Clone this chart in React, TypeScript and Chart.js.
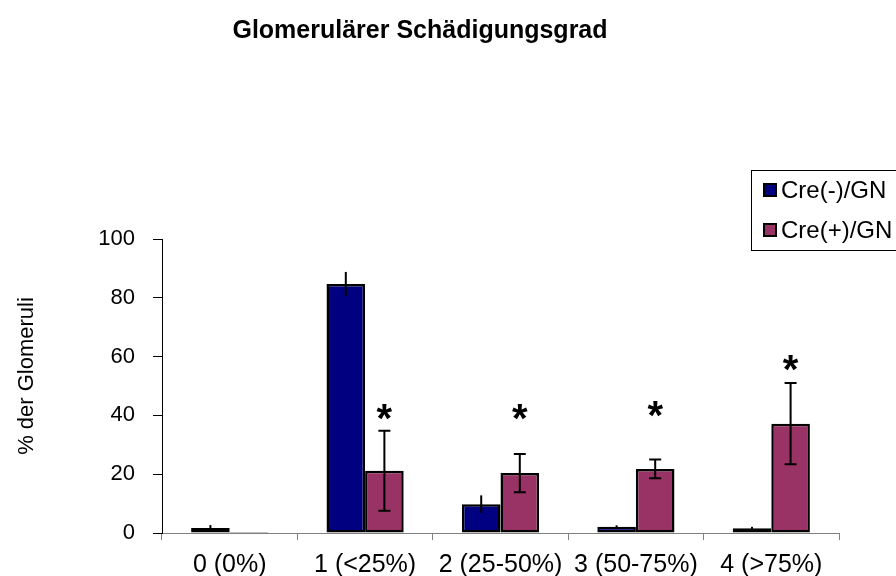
import { useEffect, useRef } from "react";
import { Chart, registerables } from "chart.js";

Chart.register(...registerables);

const chartTitle = "Glomerulärer Schädigungsgrad";
const yAxisTitle = "% der Glomeruli";
const categories = ["0 (0%)", "1 (<25%)", "2 (25-50%)", "3 (50-75%)", "4 (>75%)"];
const seriesNames = ["Cre(-)/GN", "Cre(+)/GN"];
const creNegValues = [1.7, 84.7, 9.8, 2.1, 1.6];
const creNegErrors = [1.0, 4.1, 3.0, 0.5, 0.5];
const crePosValues = [0.3, 21.2, 20.4, 21.8, 37.2];
const crePosErrors = [0, 13.6, 6.5, 3.2, 13.8];
const significant = [false, true, true, true, true];
const starLevels = [0, 41.5, 41.5, 42.5, 58];
const yMin = 0;
const yMax = 100;
const yStep = 20;

const FONT = '"Liberation Sans", Arial, Helvetica, sans-serif';
const NAVY = "#000080";
const PLUM = "#993366";

const errorBarPlugin = {
  id: "errorBars",
  afterDatasetsDraw(chart: any) {
    const ctx = chart.ctx;
    const yScale = chart.scales.y;
    chart.data.datasets.forEach((ds: any, di: number) => {
      const meta = chart.getDatasetMeta(di);
      const errs: number[] = ds.errors || [];
      meta.data.forEach((bar: any, i: number) => {
        const v = ds.data[i];
        const e = errs[i] || 0;
        if (!e) return;
        const x = bar.x;
        const yTop = yScale.getPixelForValue(v + e);
        const yBot = yScale.getPixelForValue(v - e);
        ctx.save();
        ctx.strokeStyle = "#000";
        ctx.lineWidth = 2;
        ctx.beginPath();
        ctx.moveTo(x, yTop);
        ctx.lineTo(x, yBot);
        if (ds.errorCaps) {
          ctx.moveTo(x - 6, yTop);
          ctx.lineTo(x + 6, yTop);
          ctx.moveTo(x - 6, yBot);
          ctx.lineTo(x + 6, yBot);
        }
        ctx.stroke();
        ctx.restore();
      });
    });
    // significance stars
    const meta1 = chart.getDatasetMeta(1);
    ctx.save();
    ctx.fillStyle = "#000";
    ctx.font = `bold 40px ${FONT}`;
    ctx.textAlign = "center";
    ctx.textBaseline = "alphabetic";
    significant.forEach((s, i) => {
      if (!s) return;
      const x = meta1.data[i].x;
      const yc = yScale.getPixelForValue(starLevels[i]);
      ctx.fillText("*", x, yc + 40 * 0.52);
    });
    ctx.restore();
  },
};

const decorPlugin = {
  id: "decor",
  afterDraw(chart: any) {
    const ctx = chart.ctx;
    ctx.save();
    // title
    ctx.fillStyle = "#000";
    ctx.font = `bold 25px ${FONT}`;
    ctx.textAlign = "center";
    ctx.textBaseline = "middle";
    ctx.fillText(chartTitle, 420, 31);
    // y axis title
    ctx.save();
    ctx.translate(27, 376);
    ctx.rotate(-Math.PI / 2);
    ctx.font = `22px ${FONT}`;
    ctx.fillText(yAxisTitle, 0, 0);
    ctx.restore();
    // legend
    ctx.strokeStyle = "#000";
    ctx.lineWidth = 1;
    ctx.strokeRect(751.5, 170.5, 160, 80);
    const colors = [NAVY, PLUM];
    const rowsY = [190, 230];
    ctx.font = `24px ${FONT}`;
    ctx.textAlign = "left";
    seriesNames.forEach((name, i) => {
      ctx.fillStyle = colors[i];
      ctx.fillRect(764, rowsY[i] - 6, 12, 12);
      ctx.strokeStyle = "#000";
      ctx.lineWidth = 2;
      ctx.strokeRect(764, rowsY[i] - 6, 12, 12);
      ctx.fillStyle = "#000";
      ctx.fillText(name, 781, rowsY[i] + 1);
    });
    ctx.restore();
  },
};

export default function App() {
  const ref = useRef<HTMLCanvasElement | null>(null);
  useEffect(() => {
    document.body.style.margin = "0";
    const canvas = ref.current!;
    const chart = new Chart(canvas, {
      type: "bar",
      data: {
        labels: categories,
        datasets: [
          {
            label: seriesNames[0],
            data: creNegValues,
            errors: creNegErrors,
            errorCaps: false,
            backgroundColor: NAVY,
            borderColor: "#000",
            borderWidth: 2.5,
            borderSkipped: false,
          } as any,
          {
            label: seriesNames[1],
            data: crePosValues,
            errors: crePosErrors,
            errorCaps: true,
            backgroundColor: PLUM,
            borderColor: "#000",
            borderWidth: 2.5,
            borderSkipped: false,
          } as any,
        ],
      },
      options: {
        animation: false,
        responsive: false,
        devicePixelRatio: 1,
        layout: { padding: { top: 239, right: 57, left: 0, bottom: 0 } },
        datasets: { bar: { categoryPercentage: 0.57, barPercentage: 1.0 } },
        plugins: {
          legend: { display: false },
          title: { display: false },
          tooltip: { enabled: false },
        },
        scales: {
          x: {
            grid: {
              offset: true,
              drawOnChartArea: false,
              drawTicks: true,
              tickLength: 7,
              color: "#808080",
            },
            border: { color: "#808080", width: 1 },
            ticks: {
              color: "#000",
              font: { family: FONT, size: 25 },
              padding: 10,
              maxRotation: 0,
              autoSkip: false,
            },
            afterFit(scale: any) {
              scale.height = 43;
            },
          },
          y: {
            min: yMin,
            max: yMax,
            grid: {
              drawOnChartArea: false,
              drawTicks: true,
              tickLength: 9,
              color: "#000",
            },
            border: { color: "#000", width: 1 },
            ticks: {
              stepSize: yStep,
              color: "#000",
              font: { family: FONT, size: 22 },
              padding: 18,
            },
            afterFit(scale: any) {
              scale.width = 162;
            },
          },
        },
      } as any,
      plugins: [errorBarPlugin, decorPlugin],
    });
    return () => chart.destroy();
  }, []);
  return (
    <div style={{ position: "fixed", left: 0, top: 0, width: 896, height: 576, background: "#fff" }}>
      <canvas ref={ref} width={896} height={576} />
    </div>
  );
}
